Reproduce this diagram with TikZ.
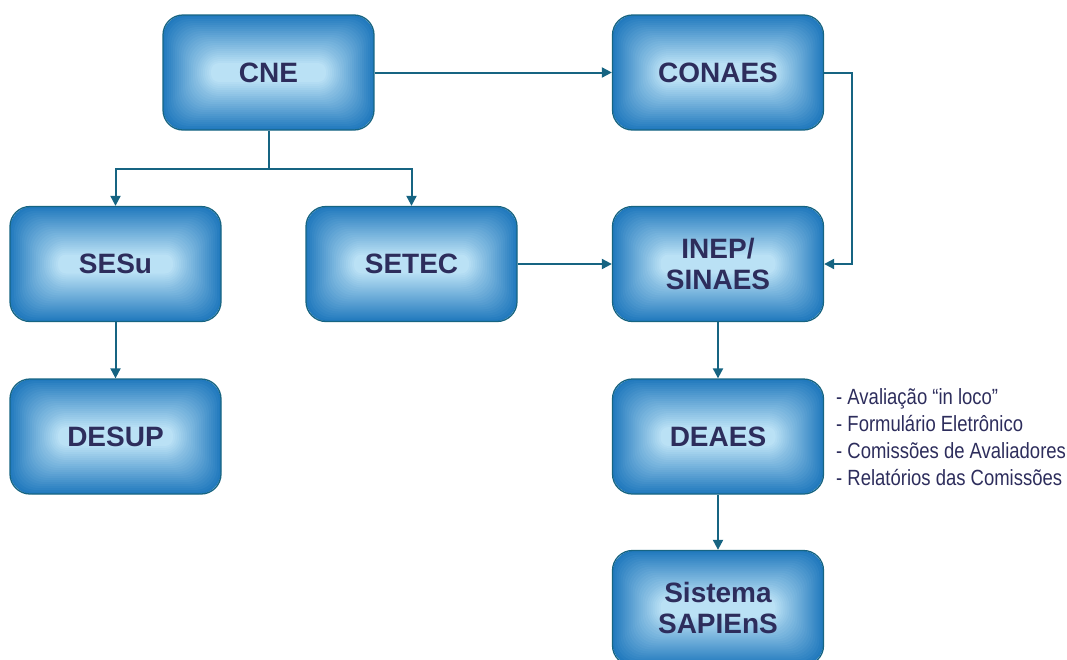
\documentclass[tikz,border=0pt]{standalone}
\usepackage{fontspec}
\setmainfont{Liberation Sans}
\newfontfamily\narrowfont[FakeStretch=0.84]{Liberation Sans}
\usetikzlibrary{arrows.meta}
\definecolor{boxout}{RGB}{34,122,190}
\definecolor{boxin}{RGB}{192,229,247}
\definecolor{edge}{RGB}{22,100,130}
\definecolor{txt}{RGB}{45,45,92}
\tikzset{
  box/.style={draw=edge, line width=1.3pt, rounded corners=20pt,
    minimum width=211pt, minimum height=115pt, inner sep=0pt,
    font=\fontsize{28}{31}\selectfont\bfseries, text=txt, align=center,
    path picture={
      \foreach \i in {0,...,24}{
        \pgfmathsetmacro\d{2*\i}
        \pgfmathtruncatemacro\p{4*\i}
        \pgfmathsetmacro\r{max(min(22,56-\d),1)}
        \fill[boxin!\p!boxout, rounded corners=\r pt]
          ([xshift=\d pt, yshift=\d pt]path picture bounding box.south west)
          rectangle
          ([xshift=-\d pt, yshift=-\d pt]path picture bounding box.north east);
      }
    }},
  link/.style={draw=edge, line width=2pt},
  arr/.style={link, -{Triangle[length=10pt,width=10pt]}},
  notes/.style={font=\narrowfont\fontsize{22}{27}\selectfont, text=txt,
    align=left, inner sep=0pt, anchor=west}
}
\begin{document}
\begin{tikzpicture}[x=1pt,y=-1pt]
\useasboundingbox (0,0) rectangle (1067,659);
\node[box] (cne) at (268.5,72.5) {CNE};
\node[box] (conaes) at (718,72.5) {CONAES};
\node[box] (sesu) at (115.5,264) {SESu};
\node[box] (setec) at (411.5,264) {SETEC};
\node[box] (inep) at (718,264) {INEP/\\SINAES};
\node[box] (desup) at (115.5,436.5) {DESUP};
\node[box] (deaes) at (718,436.5) {DEAES};
\node[box] (sapiens) at (718,608) {Sistema\\SAPIEnS};
\node[notes] (list) at (836,437.5) {- Avaliação “in loco”\\- Formulário Eletrônico\\- Comissões de Avaliadores\\- Relatórios das Comissões};
\coordinate (split) at (268.5,169);
\coordinate (rt) at (852,72.5);
\draw[arr] (cne.east) -- (conaes.west);
\draw[link] (cne.south) -- (split);
\draw[arr] (split) -| (sesu.north);
\draw[arr] (split) -| (setec.north);
\draw[arr] (conaes.east) -- (rt) |- (inep.east);
\draw[arr] (setec.east) -- (inep.west);
\draw[arr] (sesu.south) -- (desup.north);
\draw[arr] (inep.south) -- (deaes.north);
\draw[arr] (deaes.south) -- (sapiens.north);
\end{tikzpicture}
\end{document}
